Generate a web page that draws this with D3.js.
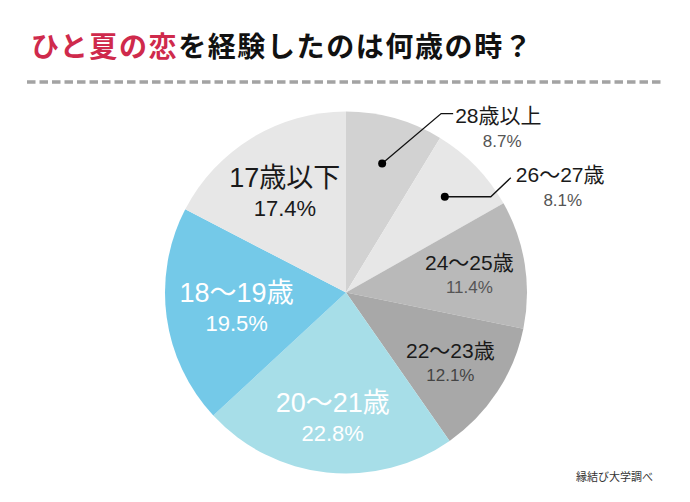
<!DOCTYPE html>
<html><head><meta charset="utf-8">
<script src="https://cdn.jsdelivr.net/npm/d3@7"></script>
<style>
html,body{margin:0;padding:0;background:#fff;}
svg{display:block;}
</style></head>
<body>
<svg id="c" width="690" height="502"></svg>
<script>
// ---- data ----
const categories = ["28歳以上","26〜27歳","24〜25歳","22〜23歳","20〜21歳","18〜19歳","17歳以下"];
const values = [8.7, 8.1, 11.4, 12.1, 22.8, 19.5, 17.4];
const percentLabels = ["8.7%","8.1%","11.4%","12.1%","22.8%","19.5%","17.4%"];
const titleRed = "ひと夏の恋";
const titleBlack = "を経験したのは何歳の時？";
const sourceText = "縁結び大学調べ";

// ---- styles ----
const colors = ["#d2d2d2","#e7e7e7","#b9b9b9","#a8a8a8","#a7dee8","#74c9e8","#e7e7e7"];
const textColors = ["#1a1a1a","#1a1a1a","#1a1a1a","#1a1a1a","#ffffff","#ffffff","#1a1a1a"];
const pctColors = ["#555","#555","#555","#444","#ffffff","#ffffff","#1a1a1a"];
const big = [false,false,false,false,true,true,true];
const outside = [true,true,false,false,false,false,false];
const labelRadius = [0.74,0.76,0.69,0.69,0.69,0.61,0.65];

const svg = d3.select("#c");
const cx = 346, cy = 292.5, R = 181;
const FONT = "'Liberation Sans','Noto Sans CJK JP',sans-serif";

// title
const title = svg.append("text")
  .attr("x", 31).attr("y", 57)
  .attr("font-family","'Noto Sans CJK JP',sans-serif")
  .attr("font-weight", 700).attr("font-size", 28)
  .attr("letter-spacing", 1.6);
title.append("tspan").attr("fill","#cf2a4c").text(titleRed);
title.append("tspan").attr("fill","#111").text(titleBlack);

// dashed rule
svg.append("line").attr("x1",27).attr("x2",661).attr("y1",82).attr("y2",82)
  .attr("stroke","#a3a3a3").attr("stroke-width",3.5).attr("stroke-dasharray","8.5 4");

// pie
const pie = d3.pie().sort(null).value(d => d);
const arcs = pie(values);
const arc = d3.arc().innerRadius(0).outerRadius(R);
const g = svg.append("g").attr("transform",`translate(${cx},${cy})`);
g.selectAll("path").data(arcs).enter().append("path")
  .attr("d", arc).attr("fill",(d,i)=>colors[i]);

const mid = d => (d.startAngle + d.endAngle)/2;
const polar = (a, r) => [r*Math.sin(a), -r*Math.cos(a)];

// inside labels
arcs.forEach((d,i)=>{
  if (outside[i]) return;
  const [x,y] = polar(mid(d), R*labelRadius[i]);
  const fs1 = big[i] ? 27 : 21, fs2 = big[i] ? 22 : 17;
  const off1 = big[i] ? -5 : -3, off2 = big[i] ? 24 : 20;
  g.append("text").attr("x",x).attr("y",y+off1).attr("text-anchor","middle")
    .attr("font-family",FONT).attr("font-size",fs1).attr("fill",textColors[i])
    .text(categories[i]);
  g.append("text").attr("x",x).attr("y",y+off2).attr("text-anchor","middle")
    .attr("font-family",FONT).attr("font-size",fs2).attr("fill",pctColors[i])
    .text(percentLabels[i]);
});

// outside labels with leader lines
const leaders = [
  {pts:[[59,-50],[71,-50]], tx:73, ty:-41},
  {pts:[[46,0],[66,-19]], tx:71, ty:-15}
];
arcs.forEach((d,i)=>{
  if (!outside[i]) return;
  const L = leaders[i];
  const [x,y] = polar(mid(d), R*labelRadius[i]);
  const pts = [[x,y]].concat(L.pts.map(p=>[x+p[0], y+p[1]]));
  g.append("path").attr("d", d3.line()(pts)).attr("fill","none")
    .attr("stroke","#111").attr("stroke-width",1.3);
  g.append("circle").attr("cx",x).attr("cy",y).attr("r",4).attr("fill","#000");
  const tx = x+L.tx, ty = y+L.ty;
  g.append("text").attr("x",tx).attr("y",ty)
    .attr("font-family",FONT).attr("font-size",21).attr("fill",textColors[i])
    .text(categories[i]);
  g.append("text").attr("x",tx+47).attr("y",ty+24).attr("text-anchor","middle")
    .attr("font-family",FONT).attr("font-size",17).attr("fill",pctColors[i])
    .text(percentLabels[i]);
});

// source
svg.append("text").attr("x",653).attr("y",481).attr("text-anchor","end")
  .attr("font-family","'Noto Sans CJK JP',sans-serif").attr("font-size",11)
  .attr("fill","#333").text(sourceText);
</script>
</body></html>
